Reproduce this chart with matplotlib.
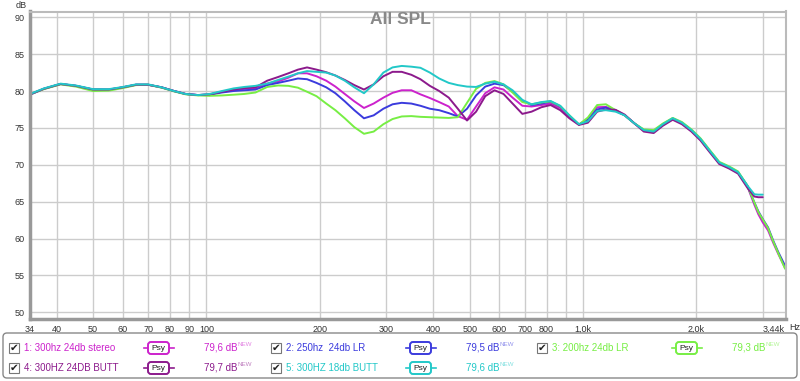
import numpy as np
import matplotlib
matplotlib.use("Agg")
import matplotlib.pyplot as plt
from matplotlib.patches import FancyBboxPatch, Rectangle
from matplotlib.transforms import Affine2D

plt.rcParams['font.family'] = ['Liberation Sans', 'DejaVu Sans']

W, H = 800, 381

# Frequencies (Hz) shared by all traces
FREQ = [34, 37, 41, 45, 50, 55, 60, 65, 70, 76, 82, 88, 95,
        102, 110, 118, 126, 135, 145, 155, 165, 175,
        185, 196, 208, 220, 233, 247, 262, 278, 295, 312, 330, 350,
        370, 392, 415, 440, 465, 492, 520, 550, 582, 615, 650, 690, 730, 775, 820,
        870, 920, 975, 1030, 1090, 1150, 1220, 1290, 1370, 1450, 1540, 1630,
        1730, 1830, 1940, 2050, 2170, 2300, 2440, 2580, 2730,
        2850, 2920, 3000, 3100, 3200, 3300, 3440]

nan = np.nan

# 1: 300hz 24db stereo
SPL_1 = [79.55, 80.3, 80.95, 80.7, 80.2, 80.2, 80.5, 80.85, 80.85, 80.5, 80.0, 79.6, 79.45,
         79.55, 79.9, 80.1, 80.3, 80.35, 81.0, 81.3, 81.8, 82.4,
         82.4, 82.0, 81.4, 80.6, 79.6, 78.6, 77.7, 78.3, 79.1, 79.75, 80.1, 80.1,
         79.55, 79.05, 78.5, 77.9, 76.6, 76.1, 77.9, 79.7, 80.5, 80.2, 79.1, 78.0, 77.9, 78.1, 78.3,
         77.7, 76.5, 75.45, 76.2, 77.8, 77.85, 77.4, 76.7, 75.6, 74.65, 74.45, 75.4,
         76.2, 75.6, 74.6, 73.4, 71.8, 70.2, 69.6, 68.9, 67.1,
         64.6, 63.3, 62.2, 61.1, 59.4, 57.9, 56.0]

# 2: 250hz 24db LR
SPL_2 = [79.5, 80.3, 80.95, 80.7, 80.2, 80.15, 80.5, 80.85, 80.85, 80.5, 80.0, 79.6, 79.45,
         79.5, 79.8, 80.0, 80.1, 80.2, 80.8, 81.1, 81.4, 81.7,
         81.6, 81.1, 80.5, 79.7, 78.6, 77.4, 76.3, 76.7, 77.6, 78.2, 78.4, 78.3,
         78.0, 77.6, 77.4, 77.0, 76.55, 77.6, 79.4, 80.6, 81.0, 80.8, 79.9, 78.7, 78.1, 78.3, 78.55,
         77.9, 76.6, 75.45, 76.1, 77.5, 77.75, 77.3, 76.7, 75.6, 74.7, 74.5, 75.5,
         76.3, 75.7, 74.7, 73.5, 71.9, 70.3, 69.7, 69.0, 67.2,
         64.9, 63.7, 62.65, 61.5, 59.7, 58.15, 56.3]

# 3: 200hz 24db LR
SPL_3 = [79.55, 80.25, 80.9, 80.6, 80.0, 80.05, 80.4, 80.8, 80.85, 80.45, 79.95, 79.55, 79.4,
         79.35, 79.4, 79.5, 79.6, 79.8, 80.55, 80.75, 80.7, 80.45,
         79.9, 79.3, 78.3, 77.4, 76.3, 75.1, 74.2, 74.5, 75.5, 76.2, 76.55, 76.6,
         76.5, 76.45, 76.4, 76.35, 76.45, 78.4, 80.3, 81.1, 81.35, 80.9, 79.8, 78.5, 78.2, 78.45, 78.6,
         77.95, 76.7, 75.45, 76.4, 78.1, 78.2, 77.4, 76.7, 75.6, 74.8, 74.7, 75.6,
         76.35, 75.8, 74.8, 73.6, 72.0, 70.4, 69.8, 69.1, 67.2,
         64.9, 63.6, 62.6, 61.4, 59.6, 58.0, 55.9]

# 4: 300HZ 24DB BUTT
SPL_4 = [79.55, 80.3, 80.95, 80.7, 80.2, 80.2, 80.5, 80.85, 80.85, 80.5, 80.0, 79.6, 79.45,
         79.55, 79.9, 80.2, 80.4, 80.5, 81.4, 81.9, 82.4, 82.9,
         83.2, 82.9, 82.55, 82.1, 81.5, 80.8, 80.2, 80.9, 82.0, 82.6, 82.6, 82.2,
         81.6, 80.7, 80.0, 79.1, 77.6, 76.0, 77.2, 79.3, 80.1, 79.6, 78.3, 76.9, 77.2, 77.8, 78.1,
         77.4, 76.3, 75.4, 75.7, 77.2, 77.5, 77.45, 76.8, 75.6, 74.5, 74.3, 75.3,
         76.1, 75.5, 74.5, 73.3, 71.7, 70.1, 69.5, 68.8, 66.9,
         65.7, 65.6, 65.6, nan, nan, nan, nan]

# 5: 300HZ 18db BUTT
SPL_5 = [79.6, 80.35, 81.0, 80.75, 80.25, 80.25, 80.55, 80.9, 80.9, 80.5, 80.0, 79.6, 79.45,
         79.6, 80.0, 80.35, 80.55, 80.7, 81.0, 81.5, 81.95, 82.4,
         82.7, 82.6, 82.5, 82.1, 81.4, 80.5, 79.7, 80.9, 82.5, 83.2, 83.4, 83.3,
         83.15, 82.5, 81.7, 81.1, 80.8, 80.6, 80.55, 81.0, 81.25, 80.9, 80.1, 78.8, 78.2, 78.5, 78.65,
         78.0, 76.7, 75.5, 75.9, 77.3, 77.4, 77.2, 76.7, 75.6, 74.7, 74.5, 75.5,
         76.3, 75.7, 74.7, 73.5, 71.9, 70.3, 69.7, 69.0, 67.2,
         66.0, 65.95, 65.95, nan, nan, nan, nan]

NAMES = ["1: 300hz 24db stereo", "2: 250hz  24db LR", "3: 200hz 24db LR",
         "4: 300HZ 24DB BUTT", "5: 300HZ 18db BUTT"]
LEVELS = ["79,6 dB", "79,5 dB", "79,3 dB", "79,7 dB", "79,6 dB"]
COLORS = ["#cc22cc", "#3b3bdd", "#77ee44", "#8c1a8c", "#22c8c8"]
SERIES = [SPL_1, SPL_2, SPL_3, SPL_4, SPL_5]

XTICKS = [34, 40, 50, 60, 70, 80, 90, 100, 200, 300, 400, 500, 600, 700, 800, 1000, 2000, 3440]
XTICK_LABELS = ["34", "40", "50", "60", "70", "80", "90", "100", "200", "300", "400",
                "500", "600", "700", "800", "1,0k", "2,0k", "3,44k"]
XGRID = [40, 50, 60, 70, 80, 90, 100, 200, 300, 400, 500, 600, 700, 800, 900, 1000, 2000, 3000]
YTICKS = [50, 55, 60, 65, 70, 75, 80, 85, 90]

fig = plt.figure(figsize=(W / 100, H / 100), dpi=100)
fig.patch.set_facecolor("white")
ax = fig.add_axes([30 / W, 1 - 319.3 / H, 756 / W, 307.8 / H])

for f in XGRID:
    ax.axvline(f, color="#cccccc", lw=1.0, zorder=0)
for v in YTICKS:
    ax.axhline(v, color="#cccccc", lw=1.0, zorder=0)

for vals, c in zip(SERIES, COLORS):
    ax.plot(FREQ, vals, color=c, lw=1.4, solid_capstyle="round", solid_joinstyle="round", zorder=2)

ax.set_xscale("log")
ax.set_xlim(34, 3459)
ax.set_ylim(49.05, 90.78)
ax.set_xticks(XTICKS)
ax.set_xticklabels(XTICK_LABELS)
ax.xaxis.set_minor_locator(matplotlib.ticker.NullLocator())
ax.set_yticks(YTICKS)
ax.tick_params(length=0, labelsize=6.5, colors="#333333", pad=4)
ax.get_xticklabels()[-1].set_horizontalalignment("right")

for s in ["top", "right"]:
    ax.spines[s].set_color("#bbbbbb")
    ax.spines[s].set_linewidth(1.5)
for s in ["left", "bottom"]:
    ax.spines[s].set_color("#999999")
    ax.spines[s].set_linewidth(2.5)

fig.text(0.5, 1 - 20 / H, "All SPL", ha="center", va="center", fontsize=12.5,
         fontweight="bold", color="#888888")
fig.text(21 / W, 1 - 5 / H, "dB", ha="center", va="center", fontsize=6.5, color="#333333")
fig.text(789 / W, 1 - 328 / H, "Hz", ha="left", va="center", fontsize=6.5, color="#333333")

# legend panel in pixel coordinates (y from top)
T = Affine2D().scale(1 / W, -1 / H).translate(0, 1) + fig.transFigure

fig.patches.append(FancyBboxPatch((3, 333), 794, 45, boxstyle="round,pad=0,rounding_size=4",
                                  transform=T, facecolor="white", edgecolor="#888888", lw=1.0))

slots = [(14, 348), (276, 348), (542, 348), (14, 368), (276, 368)]
for (cx, cy), name, lvl, c in zip(slots, NAMES, LEVELS, COLORS):
    fig.patches.append(Rectangle((cx - 5, cy - 5), 10, 10, transform=T, facecolor="white",
                                 edgecolor="#777777", lw=0.8, zorder=3))
    fig.text((cx + 0.5) / W, 1 - cy / H, "\u2714", ha="center", va="center", fontsize=7.5,
             color="#222222", family="DejaVu Sans", zorder=4)
    fig.text((cx + 10) / W, 1 - cy / H, name, ha="left", va="center", fontsize=7, color=c)
    px = cx + 144
    fig.lines.append(plt.Line2D([px - 14, px - 9], [cy, cy], transform=T, color=c, lw=1.2))
    fig.lines.append(plt.Line2D([px + 10, px + 16], [cy, cy], transform=T, color=c, lw=1.2))
    fig.patches.append(FancyBboxPatch((px - 10, cy - 6), 21, 12,
                                      boxstyle="round,pad=0,rounding_size=3", transform=T,
                                      facecolor="white", edgecolor=c, lw=1.4, zorder=3))
    fig.text((px + 0.5) / W, 1 - cy / H, "Psy", ha="center", va="center", fontsize=6,
             color="#222222", zorder=4)
    fig.text((cx + 190) / W, 1 - cy / H, lvl, ha="left", va="center", fontsize=7, color=c)
    fig.text((cx + 223) / W, 1 - (cy - 4) / H, "NEW", ha="left", va="center", fontsize=4.5,
             color=c, alpha=0.55)

fig.savefig("out.png", dpi=100, facecolor="white")
